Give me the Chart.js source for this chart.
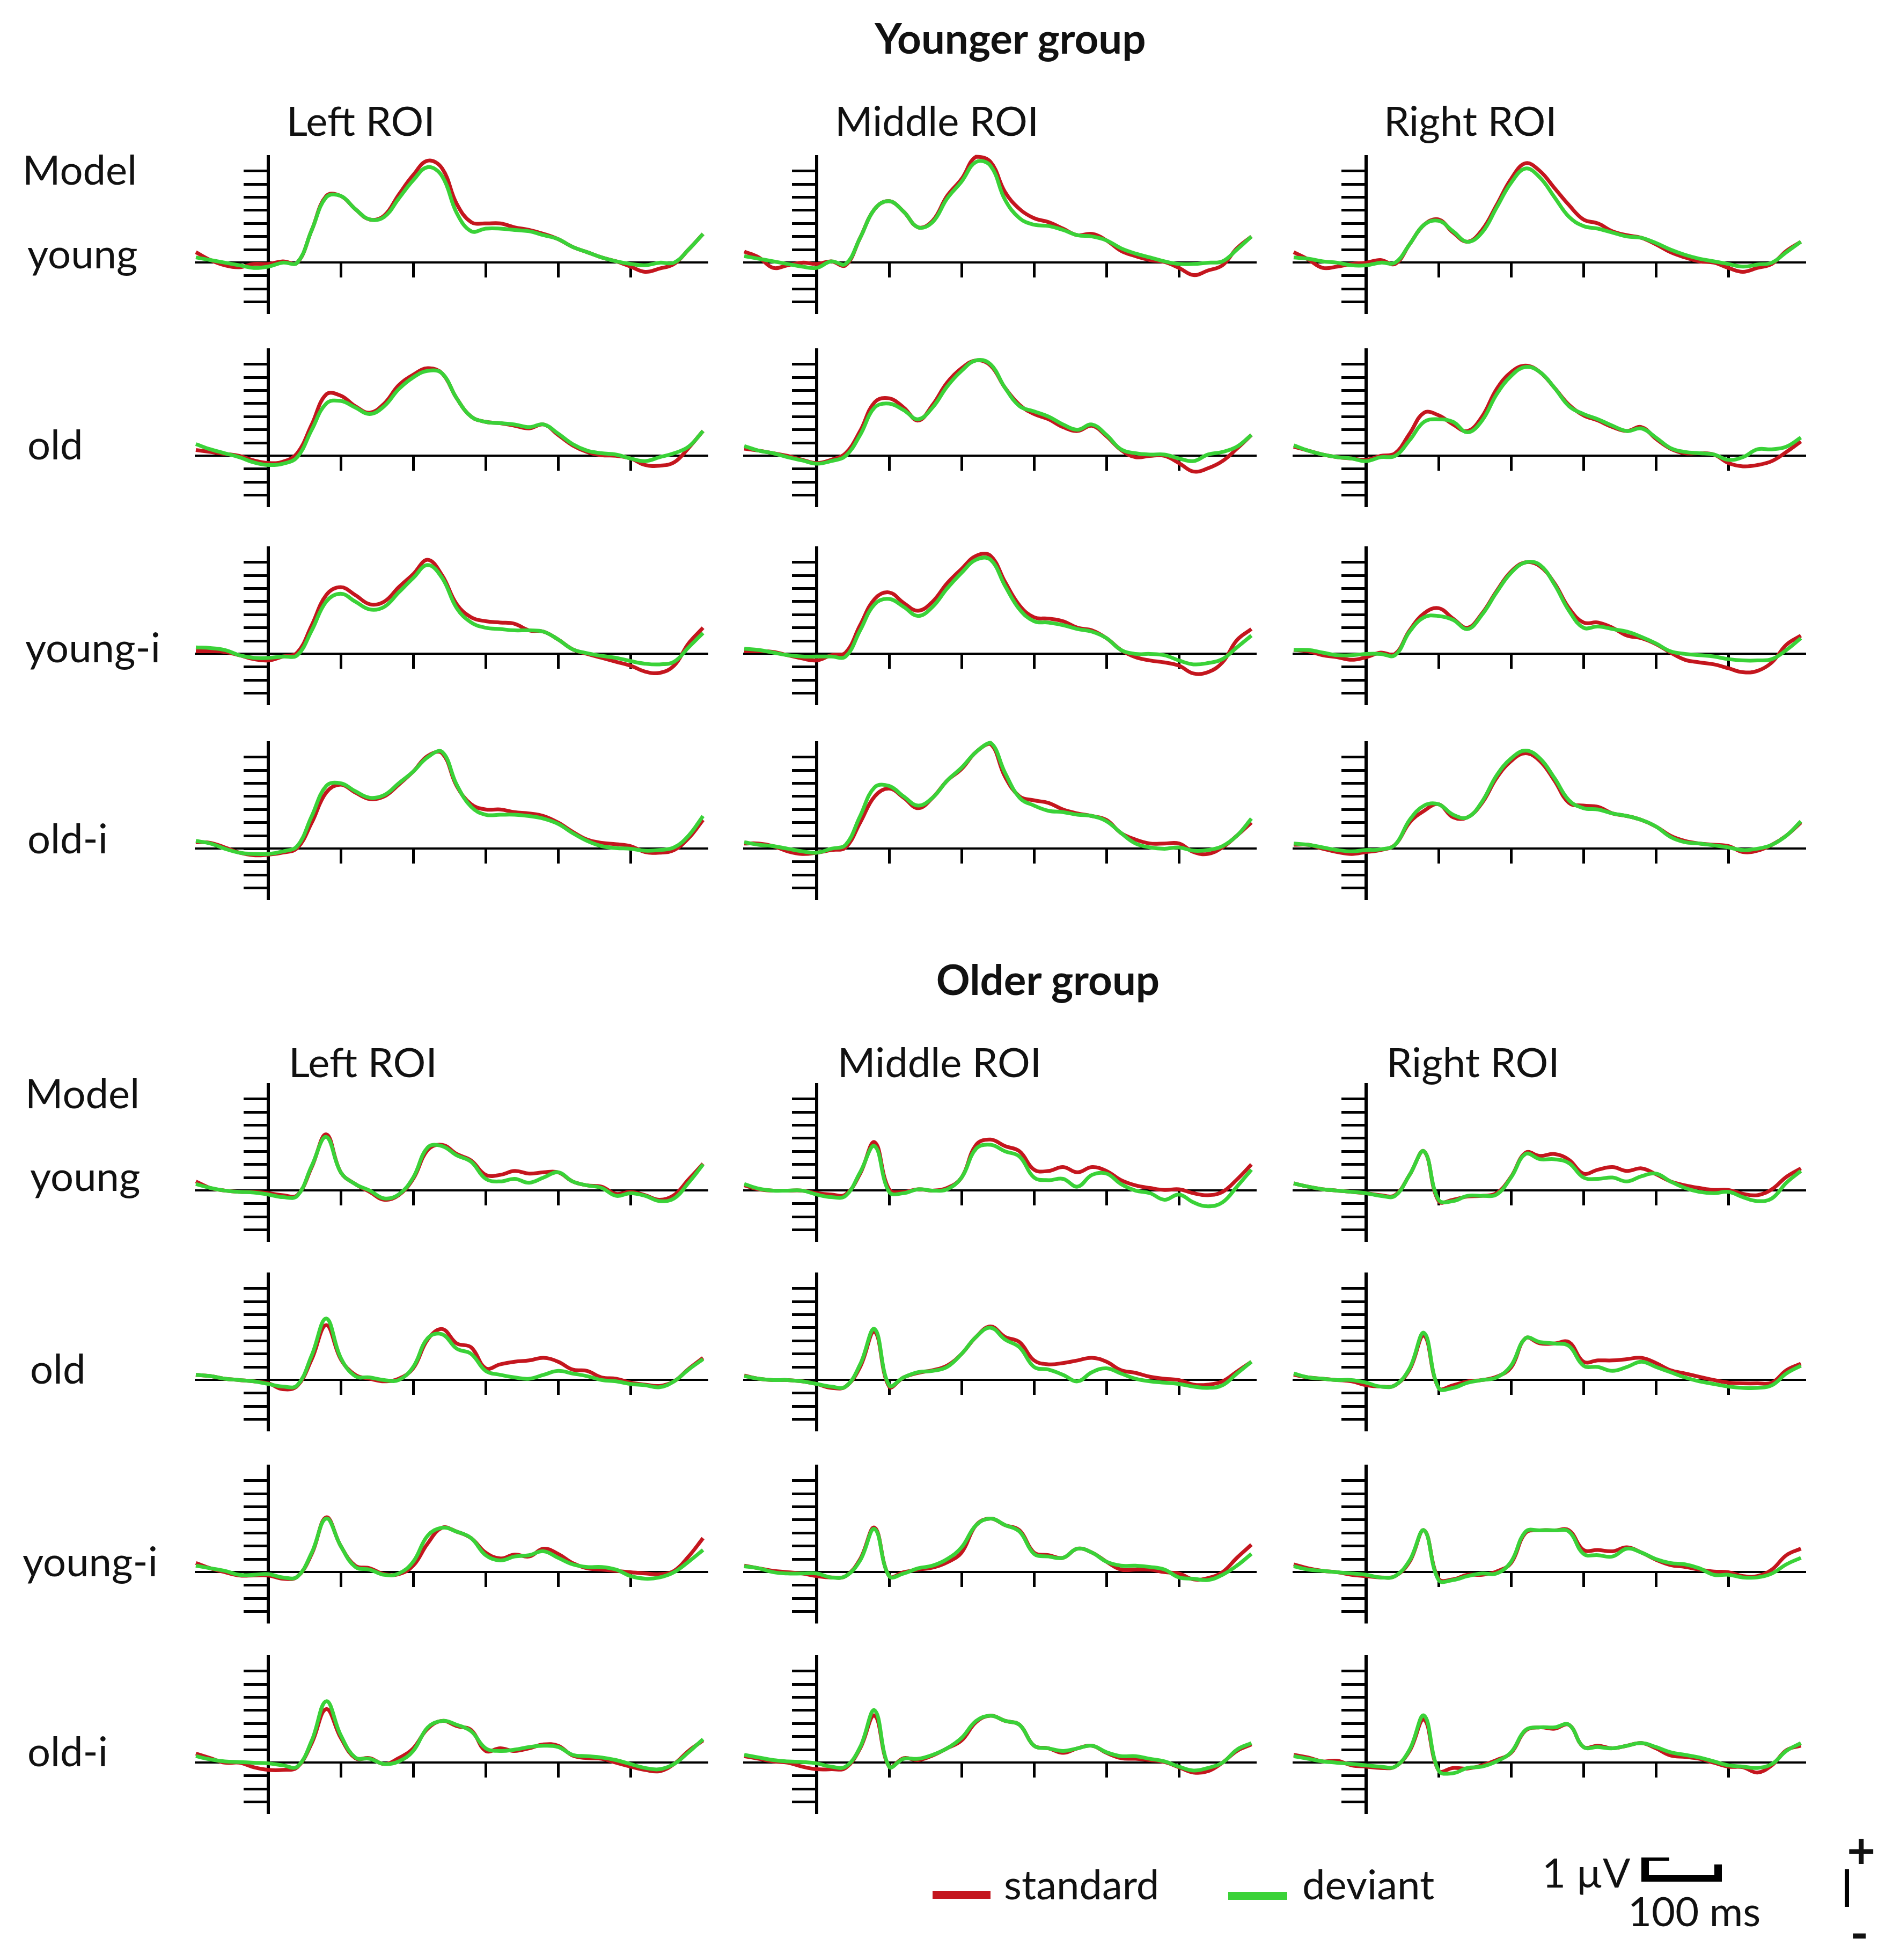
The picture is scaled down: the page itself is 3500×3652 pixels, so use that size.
<!DOCTYPE html>
<html>
<head>
<meta charset="utf-8">
<script src="https://cdn.jsdelivr.net/npm/chart.js@4.4.1/dist/chart.umd.min.js"></script>
<style>
  html, body { margin: 0; padding: 0; background: #fff; }
  body { position: relative; width: 3500px; height: 3652px; overflow: hidden; font-family: Lato, "Open Sans", sans-serif; color: #111; }
  .txt { position: absolute; white-space: nowrap; font-size: 76px; line-height: 1; transform: translateY(-50%); }
  .title { font-weight: bold; font-size: 78px; transform: translate(-50%, -50%); }
  .sign { font-weight: bold; font-size: 92px; }
  .blk { position: absolute; background: #000; }
  canvas { position: absolute; }
</style>
</head>
<body>
<script>
// time axis, ms (every 20 ms)
const times = [-100, -80, -60, -40, -20, 0, 20, 40, 60, 80, 100, 120, 140, 160, 180, 200, 220, 240,
  260, 280, 300, 320, 340, 360, 380, 400, 420, 440, 460, 480, 500, 520, 540, 560, 580, 600];
const xTicks = [100, 200, 300, 400, 500];
const yTicks = [-3, -2, -1, 0, 1, 2, 3, 4, 5, 6, 7];

const groupTitles = ['Younger group', 'Older group'];
const columnTitles = ['Left ROI', 'Middle ROI', 'Right ROI'];
const rowLabels = ['young', 'old', 'young-i', 'old-i'];
const seriesNames = ['standard', 'deviant'];

// younger group
const ygLeftYoungStd = [0.8, 0.2, -0.2, -0.35, -0.1, -0.1, 0.1, 0.0, 2.5, 5.1, 5.1, 4.1, 3.3, 3.6, 5.2, 6.7, 7.8, 7.2, 4.5, 3.1, 3.0, 3.0, 2.7, 2.5, 2.2, 1.8, 1.2, 0.8, 0.4, 0.1, -0.3, -0.7, -0.45, -0.1, 1.0, 2.2];
const ygLeftYoungDev = [0.4, 0.2, 0.0, -0.2, -0.4, -0.3, 0.0, 0.0, 2.5, 5.0, 5.1, 4.1, 3.3, 3.5, 4.9, 6.3, 7.3, 6.6, 3.8, 2.4, 2.6, 2.6, 2.5, 2.4, 2.1, 1.8, 1.2, 0.8, 0.4, 0.1, -0.1, -0.2, 0.0, 0.0, 1.0, 2.2];
const ygLeftOldStd = [0.45, 0.3, 0.15, 0.0, -0.35, -0.55, -0.45, 0.2, 2.4, 4.7, 4.6, 3.8, 3.3, 4.0, 5.4, 6.2, 6.7, 6.3, 4.4, 3.0, 2.6, 2.5, 2.3, 2.1, 2.4, 1.6, 0.8, 0.3, 0.05, 0.0, -0.2, -0.7, -0.75, -0.5, 0.6, 1.9];
const ygLeftOldDev = [0.9, 0.5, 0.2, -0.1, -0.5, -0.7, -0.6, -0.1, 2.0, 4.0, 4.2, 3.7, 3.2, 3.8, 5.1, 6.0, 6.5, 6.3, 4.4, 3.0, 2.6, 2.5, 2.4, 2.2, 2.4, 1.7, 0.9, 0.4, 0.2, 0.1, -0.2, -0.4, -0.1, 0.2, 0.7, 1.9];
const ygLeftYoungIStd = [0.2, 0.2, 0.15, -0.1, -0.4, -0.5, -0.2, 0.1, 2.2, 4.5, 5.1, 4.5, 3.8, 4.0, 5.1, 6.1, 7.2, 6.0, 3.8, 2.8, 2.5, 2.4, 2.3, 1.8, 1.7, 1.1, 0.35, 0.0, -0.3, -0.6, -0.9, -1.35, -1.45, -0.9, 0.8, 2.0];
const ygLeftYoungIDev = [0.5, 0.45, 0.3, -0.1, -0.3, -0.3, -0.2, -0.1, 1.8, 4.0, 4.6, 4.0, 3.4, 3.6, 4.7, 5.8, 6.8, 5.8, 3.5, 2.4, 2.0, 1.9, 1.8, 1.8, 1.7, 1.1, 0.35, 0.05, -0.15, -0.3, -0.55, -0.75, -0.8, -0.6, 0.5, 1.6];
const ygLeftOldIStd = [0.5, 0.45, 0.1, -0.3, -0.5, -0.45, -0.3, 0.05, 2.0, 4.3, 4.9, 4.3, 3.8, 4.0, 4.9, 5.9, 7.1, 7.3, 4.8, 3.4, 3.0, 3.0, 2.8, 2.7, 2.5, 2.0, 1.3, 0.7, 0.45, 0.35, 0.2, -0.25, -0.3, -0.1, 0.8, 2.2];
const ygLeftOldIDev = [0.6, 0.4, 0.0, -0.3, -0.4, -0.4, -0.2, 0.2, 2.5, 4.8, 5.0, 4.4, 3.9, 4.1, 5.0, 5.9, 7.0, 7.4, 4.9, 3.2, 2.6, 2.6, 2.6, 2.5, 2.3, 1.9, 1.2, 0.6, 0.2, 0.05, 0.0, -0.15, -0.1, 0.1, 1.0, 2.5];

const ygMidYoungStd = [0.85, 0.4, -0.4, -0.2, 0.0, -0.1, 0.1, -0.2, 1.9, 4.1, 4.7, 3.9, 2.7, 3.2, 5.1, 6.4, 8.1, 7.7, 5.4, 4.1, 3.4, 3.1, 2.6, 2.1, 2.2, 1.7, 0.9, 0.5, 0.2, 0.05, -0.4, -0.95, -0.6, -0.2, 1.1, 2.0];
const ygMidYoungDev = [0.5, 0.3, 0.1, -0.1, -0.3, -0.4, 0.1, -0.1, 1.9, 4.1, 4.7, 3.9, 2.7, 3.1, 4.9, 6.2, 7.7, 7.4, 4.8, 3.4, 2.9, 2.8, 2.5, 2.1, 2.0, 1.7, 1.1, 0.7, 0.4, 0.1, -0.1, -0.1, 0.0, 0.1, 1.0, 2.0];
const ygMidOldStd = [0.55, 0.4, 0.2, 0.0, -0.3, -0.55, -0.3, 0.2, 1.9, 4.1, 4.4, 3.7, 2.7, 3.9, 5.6, 6.7, 7.3, 6.9, 5.2, 3.9, 3.2, 2.8, 2.2, 1.9, 2.3, 1.5, 0.45, -0.1, 0.0, 0.0, -0.55, -1.2, -0.95, -0.4, 0.55, 1.6];
const ygMidOldDev = [0.75, 0.4, 0.2, -0.1, -0.35, -0.6, -0.4, 0.0, 1.6, 3.7, 4.0, 3.5, 2.8, 3.7, 5.3, 6.5, 7.3, 7.0, 5.2, 3.8, 3.4, 3.0, 2.4, 2.0, 2.4, 1.6, 0.5, 0.2, 0.1, 0.1, -0.2, -0.4, 0.1, 0.3, 0.7, 1.6];
const ygMidYoungIStd = [0.2, 0.2, 0.15, -0.1, -0.35, -0.5, -0.1, 0.1, 2.2, 4.2, 4.7, 3.9, 3.3, 4.0, 5.4, 6.5, 7.5, 7.5, 5.5, 3.7, 2.8, 2.7, 2.5, 2.0, 1.8, 1.2, 0.3, -0.25, -0.5, -0.65, -0.9, -1.5, -1.4, -0.65, 1.05, 1.9];
const ygMidYoungIDev = [0.4, 0.3, 0.1, -0.1, -0.2, -0.2, -0.2, -0.2, 1.8, 3.8, 4.2, 3.6, 2.9, 3.6, 5.0, 6.2, 7.2, 7.2, 5.2, 3.4, 2.5, 2.4, 2.2, 1.9, 1.7, 1.2, 0.3, 0.0, 0.0, -0.1, -0.5, -0.8, -0.7, -0.4, 0.5, 1.4];
const ygMidOldIStd = [0.4, 0.4, 0.2, -0.2, -0.4, -0.3, -0.1, 0.1, 2.0, 4.0, 4.6, 3.9, 3.1, 3.9, 5.2, 6.1, 7.4, 8.0, 5.5, 4.0, 3.7, 3.5, 3.0, 2.7, 2.5, 2.2, 1.2, 0.7, 0.4, 0.4, 0.4, -0.25, -0.4, 0.1, 1.0, 2.0];
const ygMidOldIDev = [0.5, 0.3, 0.2, 0.0, -0.2, -0.3, 0.0, 0.3, 2.5, 4.7, 4.8, 4.0, 3.3, 3.9, 5.2, 6.2, 7.4, 8.1, 5.8, 3.9, 3.3, 2.9, 2.8, 2.6, 2.5, 2.1, 1.2, 0.4, 0.1, 0.0, 0.1, -0.15, -0.1, 0.2, 1.0, 2.3];

const ygRightYoungStd = [0.8, 0.25, -0.4, -0.3, -0.1, 0.0, 0.2, -0.1, 1.4, 2.9, 3.3, 2.3, 1.6, 2.5, 4.4, 6.4, 7.6, 7.0, 5.7, 4.4, 3.3, 3.0, 2.4, 2.1, 1.9, 1.4, 0.8, 0.4, 0.1, 0.0, -0.4, -0.7, -0.4, -0.1, 0.9, 1.6];
const ygRightYoungDev = [0.4, 0.3, 0.1, 0.0, -0.2, -0.2, 0.0, 0.0, 1.4, 2.9, 3.2, 2.4, 1.6, 2.3, 4.2, 6.1, 7.2, 6.5, 5.0, 3.5, 2.8, 2.6, 2.3, 2.0, 1.9, 1.5, 1.0, 0.6, 0.3, 0.1, -0.1, -0.3, -0.15, 0.0, 0.8, 1.6];
const ygRightOldStd = [0.7, 0.4, 0.1, -0.1, -0.2, -0.3, 0.0, 0.2, 1.7, 3.3, 3.1, 2.4, 1.9, 3.0, 5.1, 6.4, 6.9, 6.4, 5.2, 3.9, 3.1, 2.7, 2.2, 1.9, 2.2, 1.3, 0.55, 0.2, 0.2, 0.1, -0.55, -0.8, -0.7, -0.4, 0.3, 1.1];
const ygRightOldDev = [0.8, 0.4, 0.1, -0.1, -0.2, -0.4, -0.1, 0.0, 1.2, 2.6, 2.8, 2.6, 1.8, 2.7, 4.7, 6.1, 6.8, 6.4, 5.2, 3.8, 3.2, 2.8, 2.3, 1.9, 2.1, 1.4, 0.6, 0.3, 0.2, 0.1, -0.3, -0.1, 0.5, 0.5, 0.7, 1.4];
const ygRightYoungIStd = [0.3, 0.2, -0.1, -0.25, -0.45, -0.25, 0.1, 0.0, 1.8, 3.1, 3.5, 2.7, 2.0, 3.1, 4.8, 6.3, 7.0, 6.7, 5.4, 3.5, 2.4, 2.4, 2.0, 1.4, 1.2, 0.75, 0.1, -0.45, -0.65, -0.8, -1.1, -1.4, -1.3, -0.65, 0.7, 1.4];
const ygRightYoungIDev = [0.3, 0.3, 0.1, -0.1, -0.1, 0.0, 0.0, -0.1, 1.7, 2.8, 2.9, 2.6, 1.9, 3.0, 4.7, 6.2, 7.0, 6.8, 5.3, 3.3, 2.0, 2.1, 1.9, 1.7, 1.3, 0.8, 0.2, 0.0, -0.1, -0.2, -0.4, -0.5, -0.5, -0.4, 0.3, 1.2];
const ygRightOldIStd = [0.3, 0.3, 0.0, -0.25, -0.4, -0.25, -0.1, 0.3, 2.0, 2.9, 3.4, 2.4, 2.4, 3.5, 5.4, 6.7, 7.3, 6.7, 5.2, 3.5, 3.3, 3.2, 2.7, 2.5, 2.2, 1.7, 1.0, 0.6, 0.4, 0.3, 0.2, -0.25, -0.15, 0.3, 1.0, 2.0];
const ygRightOldIDev = [0.4, 0.3, 0.1, -0.1, -0.2, -0.1, -0.05, 0.3, 2.2, 3.3, 3.4, 2.6, 2.4, 3.6, 5.6, 6.9, 7.5, 6.9, 5.4, 3.7, 3.1, 3.0, 2.7, 2.5, 2.2, 1.7, 0.9, 0.5, 0.4, 0.25, 0.1, -0.1, 0.0, 0.3, 1.0, 2.1];

// older group
const ogLeftYoungStd = [0.7, 0.2, 0.0, -0.1, -0.1, -0.2, -0.35, -0.35, 1.8, 4.3, 1.4, 0.5, -0.1, -0.7, -0.35, 0.9, 3.1, 3.5, 2.8, 2.3, 1.2, 1.2, 1.5, 1.3, 1.4, 1.4, 0.7, 0.4, 0.3, -0.25, -0.1, -0.35, -0.7, -0.35, 0.85, 2.05];
const ogLeftYoungDev = [0.5, 0.2, 0.0, -0.1, -0.15, -0.3, -0.5, -0.4, 1.9, 4.1, 1.4, 0.5, 0.0, -0.6, -0.3, 1.0, 3.3, 3.4, 2.7, 2.2, 0.9, 0.7, 0.9, 0.6, 1.0, 1.4, 0.7, 0.4, 0.2, -0.4, -0.2, -0.4, -0.8, -0.6, 0.6, 2.0];
const ogLeftOldStd = [0.4, 0.3, 0.1, 0.0, -0.1, -0.25, -0.7, -0.45, 1.6, 4.2, 1.6, 0.4, 0.1, -0.1, 0.1, 0.9, 3.1, 3.9, 2.8, 2.5, 0.9, 1.2, 1.4, 1.5, 1.7, 1.4, 0.8, 0.7, 0.2, 0.1, -0.2, -0.35, -0.45, -0.1, 0.85, 1.7];
const ogLeftOldDev = [0.4, 0.3, 0.1, 0.0, -0.1, -0.3, -0.5, -0.4, 1.9, 4.7, 1.7, 0.3, 0.2, 0.0, 0.0, 1.0, 3.2, 3.5, 2.4, 2.0, 0.7, 0.4, 0.2, 0.1, 0.4, 0.7, 0.5, 0.3, 0.0, -0.1, -0.3, -0.4, -0.55, -0.1, 0.8, 1.6];
const ogLeftYoungIStd = [0.7, 0.3, 0.0, -0.25, -0.25, -0.25, -0.5, -0.35, 1.4, 4.2, 2.0, 0.5, 0.3, -0.15, -0.15, 0.5, 2.2, 3.4, 3.1, 2.6, 1.5, 1.05, 1.35, 1.2, 1.8, 1.4, 0.7, 0.3, 0.2, 0.1, 0.0, -0.1, -0.15, 0.1, 1.2, 2.6];
const ogLeftYoungIDev = [0.5, 0.3, 0.1, -0.2, -0.2, -0.15, -0.4, -0.35, 1.5, 4.1, 2.0, 0.4, 0.2, -0.2, -0.1, 0.8, 2.8, 3.4, 3.1, 2.6, 1.3, 0.9, 1.2, 1.3, 1.6, 1.1, 0.6, 0.4, 0.4, 0.2, -0.3, -0.5, -0.4, 0.0, 0.8, 1.7];
const ogLeftOldIStd = [0.7, 0.35, 0.0, 0.0, -0.35, -0.55, -0.55, -0.35, 1.5, 4.1, 1.9, 0.35, 0.35, -0.1, 0.35, 1.1, 2.6, 3.2, 2.8, 2.5, 0.9, 1.1, 0.9, 1.1, 1.4, 1.3, 0.55, 0.35, 0.3, 0.0, -0.3, -0.55, -0.65, -0.1, 0.9, 1.7];
const ogLeftOldIDev = [0.5, 0.25, 0.1, 0.05, 0.0, -0.05, -0.2, -0.3, 1.7, 4.7, 2.1, 0.4, 0.3, -0.1, 0.1, 0.9, 2.7, 3.2, 2.9, 2.4, 1.1, 0.9, 1.0, 1.2, 1.3, 1.2, 0.6, 0.5, 0.4, 0.2, -0.1, -0.4, -0.5, -0.1, 0.8, 1.8];

const ogMidYoungStd = [0.4, 0.1, 0.0, 0.0, 0.0, -0.2, -0.3, -0.3, 1.3, 3.7, 0.1, -0.1, 0.1, 0.0, 0.2, 1.0, 3.5, 3.9, 3.4, 3.0, 1.6, 1.5, 1.8, 1.4, 1.8, 1.5, 0.8, 0.4, 0.2, 0.05, 0.1, -0.2, -0.35, -0.1, 0.85, 2.0];
const ogMidYoungDev = [0.5, 0.15, 0.0, 0.0, 0.0, -0.3, -0.5, -0.4, 1.4, 3.4, -0.1, -0.2, 0.1, 0.0, 0.1, 1.0, 3.2, 3.5, 3.0, 2.6, 1.0, 0.8, 0.9, 0.3, 1.2, 1.3, 0.5, 0.0, -0.2, -0.7, -0.3, -0.9, -1.2, -0.9, 0.3, 1.6];
const ogMidOldStd = [0.35, 0.1, 0.0, 0.0, -0.1, -0.3, -0.6, -0.5, 1.0, 3.7, -0.5, 0.2, 0.55, 0.75, 1.1, 2.0, 3.3, 4.1, 3.3, 2.9, 1.5, 1.2, 1.3, 1.5, 1.7, 1.4, 0.75, 0.55, 0.25, 0.1, 0.0, -0.35, -0.35, -0.1, 0.65, 1.4];
const ogMidOldDev = [0.3, 0.1, 0.0, 0.0, -0.1, -0.3, -0.5, -0.5, 1.2, 3.9, -0.4, 0.2, 0.6, 0.7, 1.0, 2.0, 3.3, 4.0, 3.1, 2.5, 1.0, 0.8, 0.4, -0.1, 0.6, 0.9, 0.5, 0.1, -0.1, -0.2, -0.3, -0.5, -0.6, -0.4, 0.5, 1.4];
const ogMidYoungIStd = [0.5, 0.3, 0.1, 0.0, -0.1, -0.3, -0.4, -0.3, 1.0, 3.4, -0.3, 0.0, 0.2, 0.35, 0.75, 1.5, 3.6, 4.1, 3.6, 3.2, 1.5, 1.3, 1.1, 1.8, 1.5, 0.8, 0.2, 0.2, 0.2, 0.0, -0.1, -0.55, -0.45, 0.0, 1.1, 2.1];
const ogMidYoungIDev = [0.45, 0.3, 0.0, -0.1, -0.1, -0.1, -0.4, -0.3, 0.9, 3.3, -0.3, -0.1, 0.3, 0.5, 1.0, 1.9, 3.6, 4.1, 3.6, 3.1, 1.4, 1.2, 1.1, 1.8, 1.5, 0.8, 0.5, 0.5, 0.4, 0.2, -0.4, -0.5, -0.6, -0.2, 0.5, 1.4];
const ogMidOldIStd = [0.5, 0.3, 0.1, 0.0, -0.3, -0.5, -0.5, -0.4, 1.1, 3.6, -0.3, 0.35, 0.2, 0.55, 1.1, 1.7, 3.1, 3.6, 3.2, 2.9, 1.3, 1.1, 0.75, 1.1, 1.3, 0.75, 0.35, 0.3, 0.2, 0.05, -0.35, -0.75, -0.65, 0.0, 0.9, 1.4];
const ogMidOldIDev = [0.6, 0.4, 0.2, 0.1, 0.05, -0.05, -0.3, -0.3, 1.2, 4.0, -0.3, 0.3, 0.3, 0.6, 1.1, 1.9, 3.2, 3.6, 3.2, 2.9, 1.3, 1.1, 0.9, 1.1, 1.3, 0.8, 0.5, 0.5, 0.3, 0.1, -0.3, -0.6, -0.4, 0.0, 1.0, 1.5];

const ogRightYoungStd = [0.55, 0.3, 0.1, 0.0, -0.1, -0.2, -0.35, -0.35, 1.2, 3.0, -0.8, -0.7, -0.45, -0.4, -0.2, 1.05, 2.9, 2.65, 2.8, 2.35, 1.3, 1.6, 1.8, 1.5, 1.7, 1.25, 0.7, 0.4, 0.2, 0.05, 0.05, -0.25, -0.35, 0.1, 1.05, 1.7];
const ogRightYoungDev = [0.55, 0.3, 0.1, 0.0, -0.1, -0.2, -0.4, -0.4, 1.2, 3.0, -0.7, -0.8, -0.4, -0.4, -0.3, 1.0, 2.8, 2.4, 2.4, 2.1, 1.0, 0.9, 1.0, 0.7, 1.1, 1.3, 0.7, 0.2, -0.1, -0.2, -0.1, -0.5, -0.8, -0.6, 0.6, 1.5];
const ogRightOldStd = [0.4, 0.2, 0.1, 0.0, -0.1, -0.4, -0.5, -0.4, 0.8, 3.4, -0.6, -0.4, -0.1, 0.0, 0.25, 0.95, 3.2, 2.8, 2.8, 2.9, 1.4, 1.5, 1.5, 1.6, 1.7, 1.3, 0.75, 0.5, 0.25, 0.0, -0.2, -0.25, -0.25, -0.2, 0.75, 1.25];
const ogRightOldDev = [0.5, 0.2, 0.1, 0.0, 0.0, -0.2, -0.5, -0.4, 0.9, 3.6, -0.6, -0.6, -0.2, 0.0, 0.2, 1.1, 3.2, 2.9, 2.8, 2.6, 1.1, 1.0, 0.7, 1.0, 1.4, 1.0, 0.6, 0.2, -0.1, -0.3, -0.5, -0.6, -0.6, -0.4, 0.5, 1.1];
const ogRightYoungIStd = [0.6, 0.3, 0.1, 0.0, -0.2, -0.3, -0.4, -0.3, 0.8, 3.2, -0.5, -0.55, -0.2, -0.2, 0.05, 0.7, 3.0, 3.2, 3.2, 3.2, 1.7, 1.7, 1.6, 1.9, 1.5, 0.95, 0.55, 0.4, 0.2, 0.05, 0.0, -0.3, -0.3, 0.2, 1.3, 1.8];
const ogRightYoungIDev = [0.45, 0.2, 0.1, 0.0, -0.1, -0.2, -0.4, -0.3, 0.9, 3.2, -0.6, -0.6, -0.3, -0.1, -0.1, 0.8, 3.1, 3.2, 3.2, 3.1, 1.4, 1.3, 1.2, 1.8, 1.5, 1.0, 0.7, 0.6, 0.3, -0.2, -0.2, -0.4, -0.4, -0.1, 0.6, 1.1];
const ogRightOldIStd = [0.6, 0.4, 0.1, 0.15, -0.2, -0.3, -0.4, -0.3, 0.9, 3.3, -0.6, -0.4, -0.45, -0.2, 0.2, 0.75, 2.45, 2.7, 2.6, 2.9, 1.2, 1.3, 1.1, 1.3, 1.5, 1.1, 0.55, 0.45, 0.3, 0.0, -0.3, -0.35, -0.75, -0.2, 0.95, 1.3];
const ogRightOldIDev = [0.5, 0.3, 0.1, 0.0, -0.1, -0.2, -0.3, -0.3, 1.0, 3.6, -0.6, -0.8, -0.4, -0.3, 0.1, 0.8, 2.5, 2.7, 2.7, 2.9, 1.2, 1.2, 1.1, 1.3, 1.5, 1.2, 0.8, 0.6, 0.4, 0.1, -0.2, -0.3, -0.4, -0.1, 0.9, 1.5];

// [row][column] -> [standard, deviant]
const youngerPanels = [
  [[ygLeftYoungStd, ygLeftYoungDev], [ygMidYoungStd, ygMidYoungDev], [ygRightYoungStd, ygRightYoungDev]],
  [[ygLeftOldStd, ygLeftOldDev], [ygMidOldStd, ygMidOldDev], [ygRightOldStd, ygRightOldDev]],
  [[ygLeftYoungIStd, ygLeftYoungIDev], [ygMidYoungIStd, ygMidYoungIDev], [ygRightYoungIStd, ygRightYoungIDev]],
  [[ygLeftOldIStd, ygLeftOldIDev], [ygMidOldIStd, ygMidOldIDev], [ygRightOldIStd, ygRightOldIDev]]
];
const olderPanels = [
  [[ogLeftYoungStd, ogLeftYoungDev], [ogMidYoungStd, ogMidYoungDev], [ogRightYoungStd, ogRightYoungDev]],
  [[ogLeftOldStd, ogLeftOldDev], [ogMidOldStd, ogMidOldDev], [ogRightOldStd, ogRightOldDev]],
  [[ogLeftYoungIStd, ogLeftYoungIDev], [ogMidYoungIStd, ogMidYoungIDev], [ogRightYoungIStd, ogRightYoungIDev]],
  [[ogLeftOldIStd, ogLeftOldIDev], [ogMidOldIStd, ogMidOldIDev], [ogRightOldIStd, ogRightOldIDev]]
];

// ---- layout (page pixels) ----
const RED = '#c4161e';
const GREEN = '#3ad238';
const X_MIN = -100, X_MAX = 605;
const Y_MIN = -3.8, Y_MAX = 8.1;
const PX_MS = 1.35, PX_UV = 24.4;
const PAD = 12;
const axisX = [500, 1522, 2546];
const layoutGroups = [
  { panels: youngerPanels, zeros: [490, 850, 1219, 1582], title: [1883, 70], headY: 224, headX: [534, 1556, 2579],
    model: [42, 315], rows: [[51, 471], [51, 827], [47, 1205], [51, 1561]] },
  { panels: olderPanels, zeros: [2219, 2572, 2930, 3285], title: [1953, 1824], headY: 1978, headX: [538, 1561, 2584],
    model: [47, 2036], rows: [[56, 2190], [56, 2549], [42, 2908], [51, 3262]] }
];

function addText(str, x, y, cls) {
  const d = document.createElement('div');
  d.className = 'txt' + (cls ? ' ' + cls : '');
  d.textContent = str;
  d.style.left = x + 'px';
  d.style.top = y + 'px';
  document.body.appendChild(d);
  return d;
}
function addBlock(x, y, w, h, color) {
  const d = document.createElement('div');
  d.className = 'blk';
  Object.assign(d.style, { left: x + 'px', top: y + 'px', width: w + 'px', height: h + 'px' });
  if (color) d.style.background = color;
  document.body.appendChild(d);
}

function makePanel(left, zero, std, dev) {
  const w = (X_MAX - X_MIN) * PX_MS, h = (Y_MAX - Y_MIN) * PX_UV;
  const cv = document.createElement('canvas');
  cv.width = Math.round(w + 2 * PAD);
  cv.height = Math.round(h + 2 * PAD);
  cv.style.left = (left + X_MIN * PX_MS - PAD) + 'px';
  cv.style.top = (zero - Y_MAX * PX_UV - PAD) + 'px';
  document.body.appendChild(cv);
  new Chart(cv, {
    type: 'line',
    data: {
      datasets: [
        { label: seriesNames[0], data: times.map((t, i) => ({ x: t, y: std[i] })), borderColor: RED, order: 2, clip: false },
        { label: seriesNames[1], data: times.map((t, i) => ({ x: t, y: dev[i] })), borderColor: GREEN, order: 1, clip: false }
      ]
    },
    options: {
      responsive: false,
      animation: false,
      devicePixelRatio: 1,
      layout: { padding: PAD },
      elements: { point: { radius: 0 }, line: { borderWidth: 7, tension: 0.4, fill: false } },
      plugins: { legend: { display: false }, tooltip: { enabled: false } },
      scales: {
        x: {
          type: 'linear', min: X_MIN, max: X_MAX, position: { y: 0 },
          afterBuildTicks: s => { s.ticks = xTicks.map(v => ({ value: v })); },
          ticks: { display: false },
          grid: { drawOnChartArea: false, tickLength: 26, lineWidth: 5, tickWidth: 5, color: '#000' },
          border: { display: true, color: '#000', width: 4 }
        },
        y: {
          type: 'linear', min: Y_MIN, max: Y_MAX, position: { x: 0 },
          afterBuildTicks: s => { s.ticks = yTicks.map(v => ({ value: v })); },
          ticks: { display: false },
          grid: { drawOnChartArea: false, tickLength: 43, lineWidth: 5, tickWidth: 5, color: '#000' },
          border: { display: true, color: '#000', width: 6 }
        }
      }
    }
  });
}

layoutGroups.forEach((g, gi) => {
  addText(groupTitles[gi], g.title[0], g.title[1], 'title');
  columnTitles.forEach((c, ci) => addText(c, g.headX[ci], g.headY));
  addText('Model', g.model[0], g.model[1]);
  rowLabels.forEach((r, ri) => addText(r, g.rows[ri][0], g.rows[ri][1]));
  g.panels.forEach((row, ri) => {
    row.forEach((pair, ci) => makePanel(axisX[ci], g.zeros[ri], pair[0], pair[1]));
  });
});

// legend
addBlock(1738, 3523, 108, 15, RED);
addText(seriesNames[0], 1871, 3510);
addBlock(2289, 3525, 110, 15, GREEN);
addText(seriesNames[1], 2427, 3510);

// scale bar: 1 µV / 100 ms
addText('1 µV', 2874, 3488);
addBlock(3059, 3461, 52, 6);
addBlock(3059, 3461, 14, 45);
addBlock(3059, 3494, 150, 12);
addBlock(3195, 3474, 14, 32);
addText('100 ms', 3034, 3560);

// polarity
addText('+', 3442, 3446, 'sign');
addBlock(3438, 3483, 8, 70);
addText('-', 3448, 3600, 'sign');
</script>
</body>
</html>
